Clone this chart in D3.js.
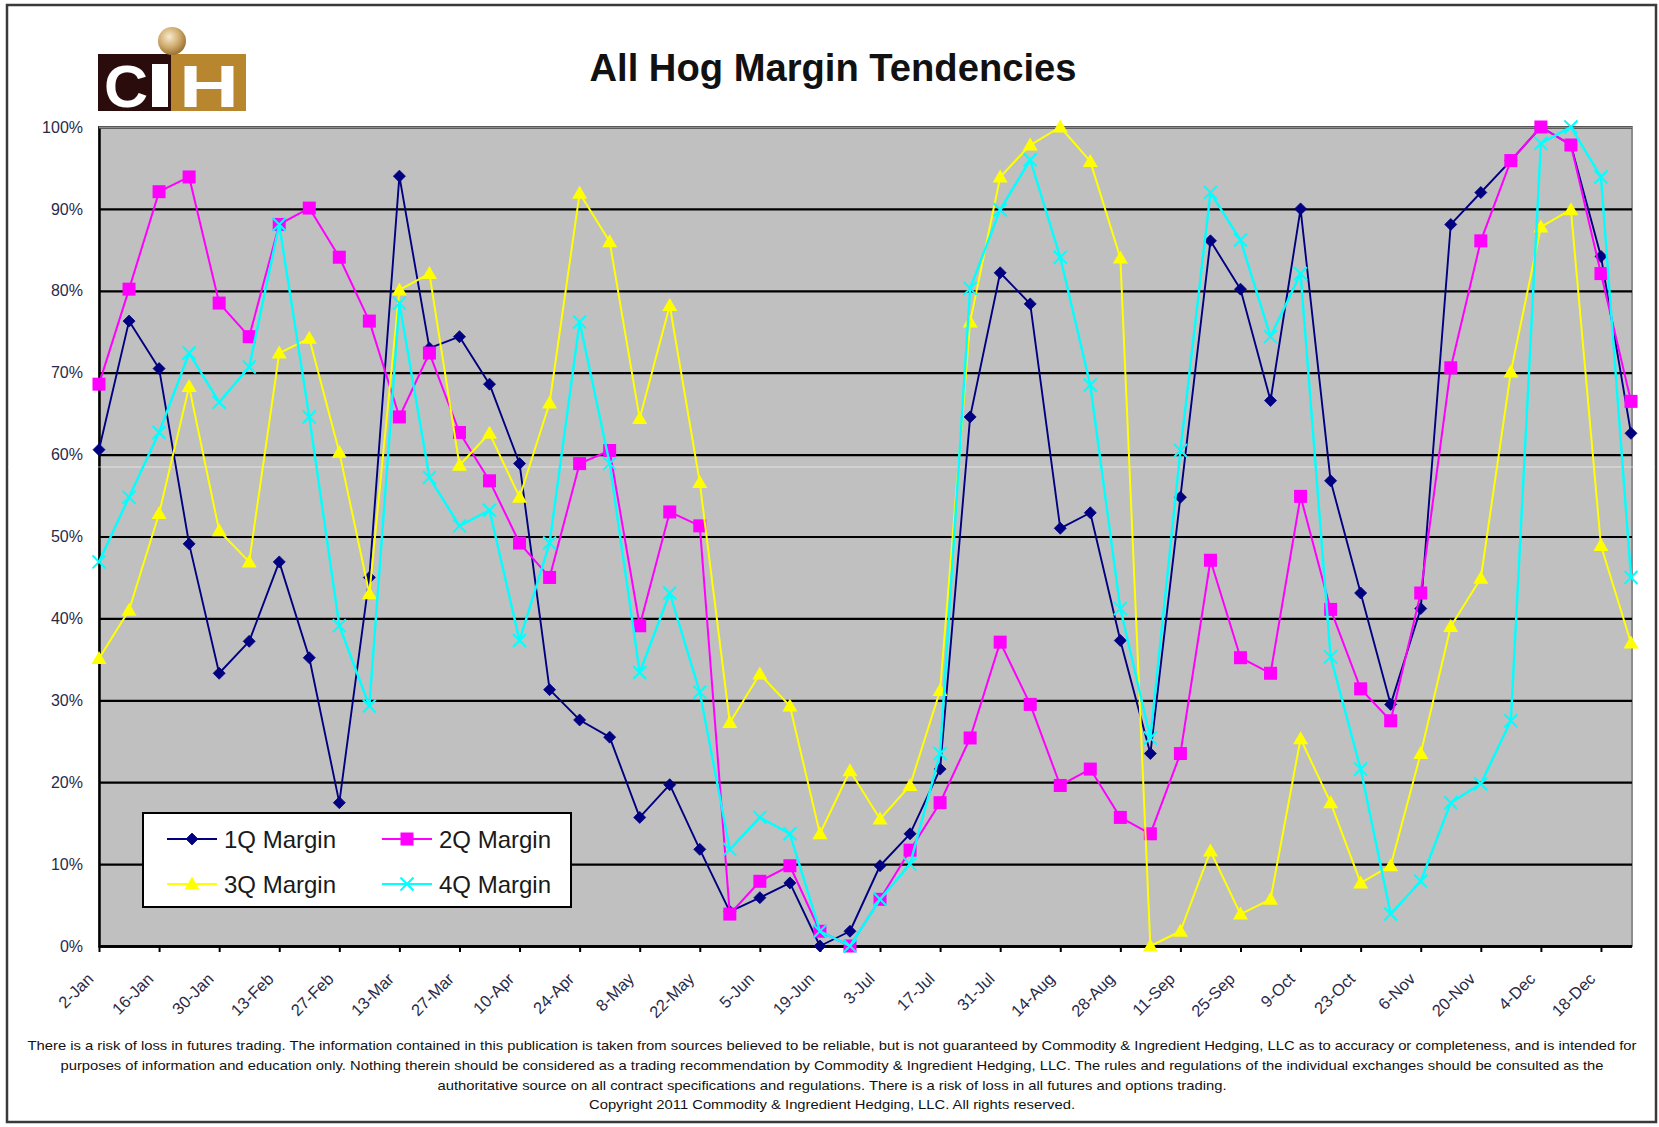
<!DOCTYPE html>
<html>
<head>
<meta charset="utf-8">
<script src="https://cdn.jsdelivr.net/npm/d3@7"></script>
<style>
  html, body { margin: 0; padding: 0; background: #fff; }
  svg { display: block; }
</style>
</head>
<body>
<svg id="chart" width="1659" height="1127"></svg>
<script>
// ---------- DATA ----------
const weeks = ["2-Jan","9-Jan","16-Jan","23-Jan","30-Jan","6-Feb","13-Feb","20-Feb","27-Feb","6-Mar",
  "13-Mar","20-Mar","27-Mar","3-Apr","10-Apr","17-Apr","24-Apr","1-May","8-May","15-May",
  "22-May","29-May","5-Jun","12-Jun","19-Jun","26-Jun","3-Jul","10-Jul","17-Jul","24-Jul",
  "31-Jul","7-Aug","14-Aug","21-Aug","28-Aug","4-Sep","11-Sep","18-Sep","25-Sep","2-Oct",
  "9-Oct","16-Oct","23-Oct","30-Oct","6-Nov","13-Nov","20-Nov","27-Nov","4-Dec","11-Dec",
  "18-Dec","25-Dec"];
const tickLabels = ["2-Jan","16-Jan","30-Jan","13-Feb","27-Feb","13-Mar","27-Mar","10-Apr","24-Apr","8-May",
  "22-May","5-Jun","19-Jun","3-Jul","17-Jul","31-Jul","14-Aug","28-Aug","11-Sep","25-Sep",
  "9-Oct","23-Oct","6-Nov","20-Nov","4-Dec","18-Dec"];
const yTicks = [0,0.1,0.2,0.3,0.4,0.5,0.6,0.7,0.8,0.9,1.0];

const margin1Q = [60.6,76.3,70.5,49.1,33.3,37.2,46.9,35.2,17.5,45,94,73,74.4,68.6,58.9,31.3,27.6,25.5,15.7,19.7,
  11.8,4.2,5.9,7.7,0,1.8,9.8,13.7,21.6,64.6,82.2,78.4,51,52.9,37.3,23.5,54.8,86.1,80.2,66.6,
  90,56.8,43.1,29.5,41.2,88.1,92,95.9,100,97.8,84.2,62.6];
const margin2Q = [68.6,80.2,92.1,93.9,78.5,74.4,88.1,90.1,84.1,76.3,64.6,72.4,62.7,56.8,49.2,45,58.9,60.5,39.1,53,
  51.3,3.9,7.9,9.8,1.8,0,5.7,11.7,17.5,25.4,37.1,29.5,19.6,21.6,15.7,13.7,23.5,47.1,35.2,33.3,
  54.9,41.1,31.4,27.5,43.1,70.6,86.1,95.9,100,97.8,82.1,66.5];
const margin3Q = [35.1,41,52.8,68.3,50.7,46.9,72.4,74.2,60.3,43,80.1,82.1,58.7,62.6,54.8,66.3,91.9,86,64.4,78.2,
  56.6,27.3,33.2,29.3,13.7,21.4,15.5,19.6,31.2,76.2,93.9,97.8,100,95.8,84,0,1.8,11.6,3.9,5.7,
  25.3,17.5,7.7,9.8,23.5,39,44.9,70.1,87.8,89.9,48.9,37];
const margin4Q = [46.9,54.8,62.7,72.4,66.4,70.7,88.1,64.6,39.1,29.3,78.5,57.2,51.3,53.2,37.3,49.2,76.2,58.9,33.4,43.1,
  31,11.8,15.7,13.7,1.8,0,5.7,10,23.5,80.3,89.9,96,84.1,68.5,41.2,25.4,60.5,92,86.2,74.4,
  82.1,35.3,21.6,3.9,7.9,17.5,19.8,27.5,98,100,93.9,45];

const seriesNames = ["1Q Margin","2Q Margin","3Q Margin","4Q Margin"];
const seriesValues = [margin1Q, margin2Q, margin3Q, margin4Q];

const footerLines = [
  "There is a risk of loss in futures trading. The information contained in this publication is taken from sources believed to be reliable, but is not guaranteed by Commodity & Ingredient Hedging, LLC as to accuracy or completeness, and is intended for",
  "purposes of information and education only. Nothing therein should be considered as a trading recommendation by Commodity & Ingredient Hedging, LLC. The rules and regulations of the individual exchanges should be consulted as the",
  "authoritative source on all contract specifications and regulations. There is a risk of loss in all futures and options trading.",
  "Copyright 2011 Commodity & Ingredient Hedging, LLC. All rights reserved."
];

// ---------- STYLE ----------
const colors = ["#000080", "#FF00FF", "#FFFF00", "#00FFFF"];
const lineWidths = [1.9, 2, 2, 2.4];
const plot = { left: 99, right: 1632, top: 127, bottom: 946 };

const svg = d3.select("#chart");
svg.append("rect").attr("x",0).attr("y",0).attr("width",1659).attr("height",1127).attr("fill","#fff");

// outer frame
svg.append("rect").attr("x",7).attr("y",5).attr("width",1649).attr("height",1117)
  .attr("fill","none").attr("stroke","#3a3a3a").attr("stroke-width",2.5);

// ---------- LOGO ----------
const defs = svg.append("defs");
const rg = defs.append("radialGradient").attr("id","globe").attr("cx","40%").attr("cy","35%").attr("r","65%");
rg.append("stop").attr("offset","0%").attr("stop-color","#f6ead0");
rg.append("stop").attr("offset","55%").attr("stop-color","#d2ae70");
rg.append("stop").attr("offset","100%").attr("stop-color","#9a7434");
const logo = svg.append("g");
logo.append("rect").attr("x",98).attr("y",54).attr("width",73).attr("height",57).attr("fill","#2a0c0c");
logo.append("rect").attr("x",171).attr("y",54).attr("width",75).attr("height",57).attr("fill","#b7862e");
logo.append("circle").attr("cx",172).attr("cy",41).attr("r",14).attr("fill","url(#globe)");
logo.append("text").attr("x",104).attr("y",107).attr("font-family","Liberation Sans, Arial, sans-serif")
  .attr("font-weight","bold").attr("font-size",60).attr("fill","#fff")
  .attr("textLength",44).attr("lengthAdjust","spacingAndGlyphs").text("C");
logo.append("rect").attr("x",152).attr("y",64).attr("width",16).attr("height",43).attr("fill","#fff");
logo.append("text").attr("x",179).attr("y",107).attr("font-family","Liberation Sans, Arial, sans-serif")
  .attr("font-weight","bold").attr("font-size",60).attr("fill","#fff")
  .attr("textLength",60).attr("lengthAdjust","spacingAndGlyphs").text("H");

// ---------- TITLE ----------
svg.append("text").attr("x",833).attr("y",81).attr("text-anchor","middle")
  .attr("font-family","Liberation Sans, Arial, sans-serif").attr("font-weight","bold")
  .attr("font-size",39).attr("fill","#111")
  .attr("textLength",487).attr("lengthAdjust","spacingAndGlyphs")
  .text("All Hog Margin Tendencies");

// ---------- SCALES ----------
const x = d3.scalePoint().domain(weeks).range([plot.left, plot.right - 1]);
const y = d3.scaleLinear().domain([0,1]).range([plot.bottom, plot.top]);

// plot area
svg.append("rect").attr("x",plot.left).attr("y",plot.top)
  .attr("width",plot.right-plot.left).attr("height",plot.bottom-plot.top)
  .attr("fill","#C0C0C0").attr("stroke","#8c8c8c").attr("stroke-width",2);

// gridlines + y labels
const yAxis = d3.axisLeft(y).tickValues(yTicks).tickFormat(d3.format(".0%"))
  .tickSize(-(plot.right-plot.left)).tickPadding(16);
const gy = svg.append("g").attr("transform",`translate(${plot.left},0)`).call(yAxis);
gy.select(".domain").attr("stroke","#000").attr("stroke-width",2.5);
gy.selectAll(".tick line").attr("stroke",d => (d===1 ? "#8c8c8c" : "#000")).attr("stroke-width",2.2);
gy.selectAll(".tick text").attr("font-family","Liberation Sans, Arial, sans-serif")
  .attr("font-size",16).attr("fill","#2a2a48");

// x axis
const xAxis = d3.axisBottom(x).tickValues(tickLabels).tickSize(6).tickSizeOuter(0);
const gx = svg.append("g").attr("transform",`translate(0,${plot.bottom})`).call(xAxis);
gx.select(".domain").attr("stroke","#000").attr("stroke-width",2.5);
gx.selectAll(".tick line").attr("stroke","#000").attr("stroke-width",2);
gx.selectAll(".tick text").attr("x",0).attr("y",0).attr("dy",null)
  .attr("text-anchor","end").attr("transform","translate(-5,34) rotate(-45)")
  .attr("font-family","Liberation Sans, Arial, sans-serif").attr("font-size",16.5).attr("fill","#2a2a48");

// faint scan line across the page (present in the reference image)
svg.append("line").attr("x1",8).attr("x2",1655).attr("y1",467).attr("y2",467)
  .attr("stroke","#fff").attr("stroke-opacity",0.55).attr("stroke-width",1);

// ---------- MARKERS ----------
function drawMarker(g, k, cx, cy) {
  const c = colors[k];
  if (k === 0) {
    g.append("path").attr("d",`M${cx},${cy-6}L${cx+6},${cy}L${cx},${cy+6}L${cx-6},${cy}Z`)
      .attr("fill",c).attr("stroke",c).attr("stroke-width",0.8);
  } else if (k === 1) {
    g.append("rect").attr("x",cx-6.5).attr("y",cy-6.5).attr("width",13).attr("height",13).attr("fill",c);
  } else if (k === 2) {
    g.append("path").attr("d",`M${cx},${cy-7.5}L${cx+7.5},${cy+5.5}L${cx-7.5},${cy+5.5}Z`).attr("fill",c);
  } else {
    g.append("path").attr("d",`M${cx-6.5},${cy-6.5}L${cx+6.5},${cy+6.5}M${cx-6.5},${cy+6.5}L${cx+6.5},${cy-6.5}`)
      .attr("stroke",c).attr("stroke-width",2).attr("fill","none");
  }
}

// ---------- SERIES ----------
const line = d3.line().x((d,i) => x(weeks[i])).y(d => y(d/100));
seriesValues.forEach((vals, k) => {
  const g = svg.append("g");
  g.append("path").datum(vals).attr("d", line).attr("fill","none")
    .attr("stroke", colors[k]).attr("stroke-width", lineWidths[k]).attr("stroke-linejoin","round");
  vals.forEach((v,i) => drawMarker(g, k, x(weeks[i]), y(v/100)));
});

// ---------- LEGEND ----------
const lg = svg.append("g");
lg.append("rect").attr("x",143).attr("y",813).attr("width",428).attr("height",94)
  .attr("fill","#fff").attr("stroke","#000").attr("stroke-width",2);
const legPos = [[167,839],[382,839],[167,884],[382,884]];
seriesNames.forEach((name,k) => {
  const [lx, ly] = legPos[k];
  lg.append("line").attr("x1",lx).attr("x2",lx+50).attr("y1",ly).attr("y2",ly)
    .attr("stroke",colors[k]).attr("stroke-width",2.2);
  drawMarker(lg, k, lx+25, ly);
  lg.append("text").attr("x",lx+57).attr("y",ly+8.5)
    .attr("font-family","Liberation Sans, Arial, sans-serif").attr("font-size",24).attr("fill","#1a1a1a")
    .text(name);
});

// ---------- FOOTER ----------
const footerLens = [1609, 1543, 789, 486];
const footerY = [1050, 1070, 1090, 1109];
footerLines.forEach((t,i) => {
  svg.append("text").attr("x",832).attr("y",footerY[i]).attr("text-anchor","middle")
    .attr("font-family","Liberation Sans, Arial, sans-serif").attr("font-size",13).attr("fill","#111")
    .attr("textLength",footerLens[i]).attr("lengthAdjust","spacingAndGlyphs")
    .text(t);
});
</script>
</body>
</html>
